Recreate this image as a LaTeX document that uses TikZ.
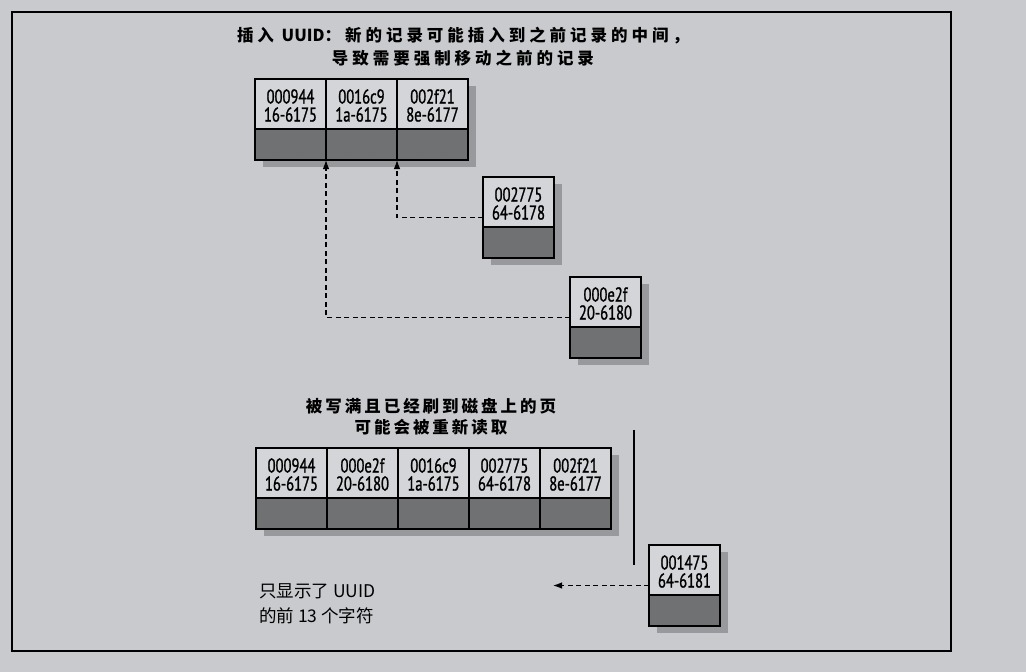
\documentclass[tikz,border=0pt]{standalone}
\usepackage{fontspec}
\usetikzlibrary{positioning}
\usetikzlibrary{shadows}
\usetikzlibrary{patterns}
\usetikzlibrary{arrows.meta}
\newfontfamily\cjkfont{Noto Sans CJK SC}
\newfontfamily\cellfont[FakeStretch=0.73,FakeBold=1.2]{PT Sans}
\definecolor{paper}{RGB}{201,202,206}
\definecolor{cellface}{RGB}{212,213,216}
\definecolor{bandgray}{RGB}{112,113,116}
\definecolor{shadowgray}{RGB}{152,153,156}

% one record: name, placement, key, suffix
\newcommand\record[4]{%
  \node[record, #2] (#1) {};
  \node[cell text] (#1-text) at ([yshift=14pt]#1.center) {#3\\#4};
}

\begin{document}
\begin{tikzpicture}[x=1pt,y=-1pt,
    record/.style={draw, line width=1.1pt, fill=cellface,
      minimum width=71pt, minimum height=81pt, inner sep=0pt, outer sep=0pt,
      drop shadow={shadow xshift=8pt, shadow yshift=-7pt, fill=shadowgray, opacity=1},
      path picture={
        \fill[bandgray] (path picture bounding box.south west)
          rectangle ([yshift=31pt]path picture bounding box.south east);
        \fill[pattern=crosshatch dots, pattern color=black!55]
          (path picture bounding box.south west)
          rectangle ([yshift=31pt]path picture bounding box.south east);
        \draw[line width=2.2pt] ([yshift=31pt]path picture bounding box.south west)
          -- ([yshift=31pt]path picture bounding box.south east);
      }},
    cell text/.style={font=\cellfont\fontsize{20}{18}\selectfont, align=center, inner sep=0pt},
    heading/.style={font=\cjkfont\bfseries\fontsize{16.5}{23}\selectfont\addfontfeature{LetterSpace=24},
      align=center, inner sep=0pt},
    page heading/.style={font=\cjkfont\bfseries\fontsize{16.5}{21}\selectfont\addfontfeature{LetterSpace=18},
      align=center, inner sep=0pt},
    note/.style={font=\cjkfont\fontsize{17.5}{25}\selectfont, align=left, inner sep=0pt},
    link/.style={line width=1.1pt, dash pattern=on 5pt off 3.5pt, -{Latex[length=9pt,width=6.5pt]}}]

  % Paper and frame
  \fill[paper] (0,0) rectangle (1026,672);
  \useasboundingbox (0,0) rectangle (1026,672);
  \draw[line width=1.2pt] (12,12) rectangle (951,651);

  % Inserting UUIDs
  \node[heading] (insert title) at (463,47)
    {插入 {\cjkfont UUID}：新的记录可能插入到之前记录的中间，\\导致需要强制移动之前的记录};
  \record{t1}{anchor=north west, at={(255,79)}}{000944}{16-6175}
  \record{t2}{right=0pt of t1}{0016c9}{1a-6175}
  \record{t3}{right=0pt of t2}{002f21}{8e-6177}

  \record{r2775}{anchor=north west, at={(483,177)}}{002775}{64-6178}
  \record{r0e2f}{anchor=north west, at={(570,277)}}{000e2f}{20-6180}

  \draw[link] (r2775.west) -| (t3.south west);
  \draw[link] (r0e2f.west) -| (t2.south west);

  % Full page, flushed to disk
  \node[page heading] (page title) at (431,417)
    {被写满且已经刷到磁盘上的页\\可能会被重新读取};
  \record{p1}{anchor=north west, at={(256,448)}}{000944}{16-6175}
  \record{p2}{right=0pt of p1}{000e2f}{20-6180}
  \record{p3}{right=0pt of p2}{0016c9}{1a-6175}
  \record{p4}{right=0pt of p3}{002775}{64-6178}
  \record{p5}{right=0pt of p4}{002f21}{8e-6177}

  \draw[line width=1.2pt] (634,430) -- (634,565);

  \record{r1475}{anchor=north west, at={(649,545)}}{001475}{64-6181}
  \coordinate (new slot) at (553,586);
  \draw[link] (r1475.west) -- (r1475.west -| new slot);

  \node[note, anchor=west] (uuid note) at (259,604)
    {只显示了 UUID\\的前 13 个字符};

\end{tikzpicture}
\end{document}
